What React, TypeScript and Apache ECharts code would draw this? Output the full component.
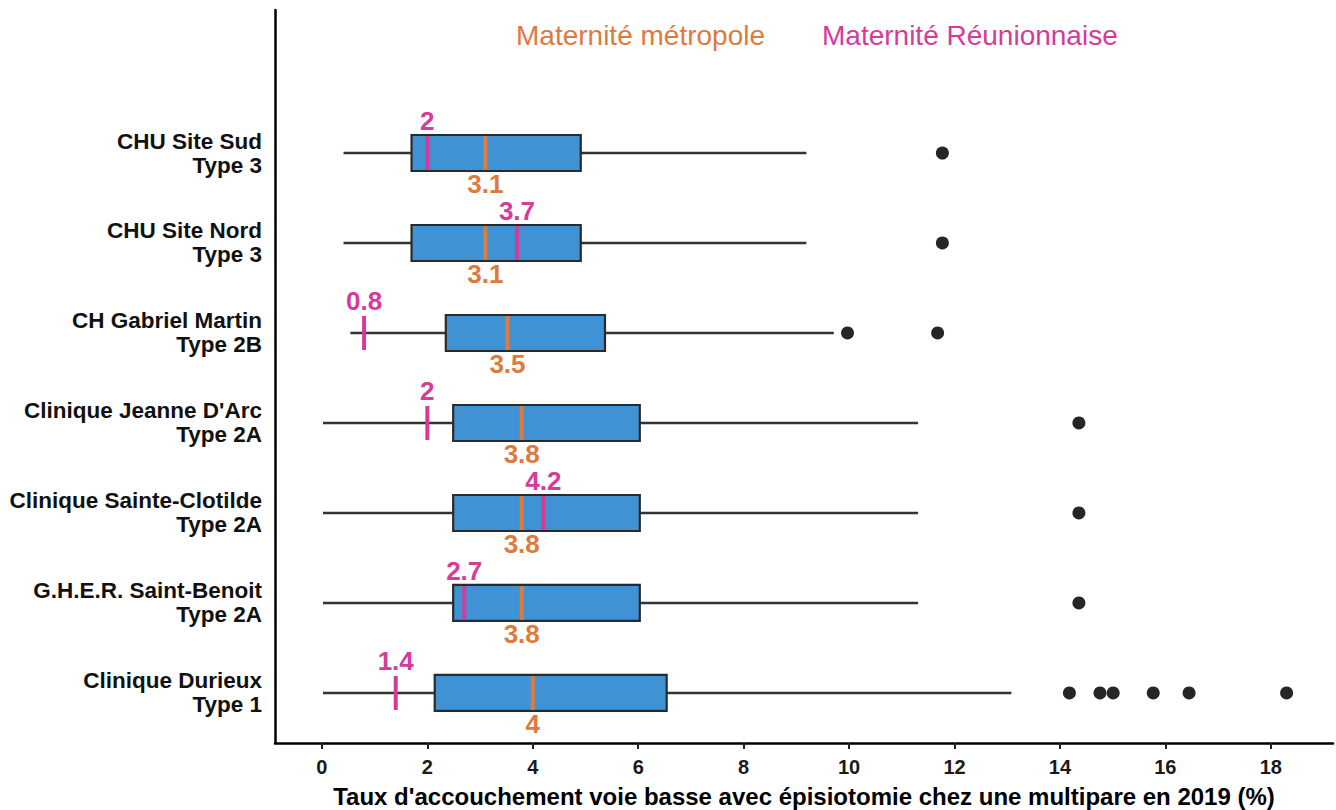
import React, { useEffect, useRef } from "react";
import * as echarts from "echarts";

// ---- Data ----
const categories = [
  "CHU Site Sud\nType 3",
  "CHU Site Nord\nType 3",
  "CH Gabriel Martin\nType 2B",
  "Clinique Jeanne D'Arc\nType 2A",
  "Clinique Sainte-Clotilde\nType 2A",
  "G.H.E.R. Saint-Benoit\nType 2A",
  "Clinique Durieux\nType 1",
];
const whiskerLow = [0.41, 0.41, 0.54, 0.02, 0.02, 0.02, 0.02];
const q1 = [1.7, 1.7, 2.35, 2.49, 2.49, 2.49, 2.14];
const medianMetropole = [3.1, 3.1, 3.52, 3.79, 3.79, 3.79, 4.0];
const q3 = [4.91, 4.91, 5.37, 6.03, 6.03, 6.03, 6.54];
const whiskerHigh = [9.19, 9.19, 9.71, 11.31, 11.31, 11.31, 13.08];
const reunionValue = [2, 3.7, 0.8, 2, 4.2, 2.7, 1.4];
const outliers: [number, number][] = [
  [11.77, 0],
  [11.77, 1],
  [9.97, 2],
  [11.68, 2],
  [14.36, 3],
  [14.36, 4],
  [14.36, 5],
  [14.18, 6],
  [14.76, 6],
  [15.01, 6],
  [15.77, 6],
  [16.45, 6],
  [18.3, 6],
];
const xTicks = [0, 2, 4, 6, 8, 10, 12, 14, 16, 18];
const xAxisTitle =
  "Taux d'accouchement voie basse avec épisiotomie chez une multipare en 2019 (%)";
const legendMetropole = "Maternité métropole";
const legendReunion = "Maternité Réunionnaise";

const ORANGE = "#DE7A3B";
const MAGENTA = "#D63A9B";
const BLUE = "#3F93D5";
const DARK = "#2a2a2a";
const FONT = "Liberation Sans, Arial, Helvetica, sans-serif";

const fmt = (v: number) => String(Number(v.toFixed(1)));

export default function App() {
  const ref = useRef<HTMLDivElement>(null);
  useEffect(() => {
    if (!ref.current) return;
    const chart = echarts.init(ref.current, undefined, { renderer: "svg" });
    const boxData = categories.map((_, i) => [
      i,
      whiskerLow[i],
      q1[i],
      medianMetropole[i],
      q3[i],
      whiskerHigh[i],
      reunionValue[i],
    ]);
    const halfH = 18;
    const option: any = {
      animation: false,
      backgroundColor: "#ffffff",
      grid: {
        left: 275,
        right: 3,
        top: 10,
        bottom: 67,
        containLabel: false,
        outerBoundsMode: "none",
      },
      xAxis: {
        type: "value",
        min: -0.89,
        max: 19.18,
        splitLine: { show: false },
        axisLine: { show: true, onZero: false, lineStyle: { color: "#000", width: 2.5 } },
        axisTick: {
          show: true,
          customValues: xTicks,
          length: 6,
          lineStyle: { color: "#222", width: 2 },
        },
        axisLabel: {
          customValues: xTicks,
          fontFamily: FONT,
          fontSize: 20,
          fontWeight: "bold",
          color: "#1a1a1a",
          margin: 14,
        },
        name: xAxisTitle,
        nameLocation: "middle",
        nameGap: 41,
        nameTextStyle: {
          fontFamily: FONT,
          fontSize: 24,
          fontWeight: "bold",
          color: "#000",
        },
      },
      yAxis: {
        type: "value",
        inverse: true,
        min: -1.589,
        max: 6.556,
        splitLine: { show: false },
        axisLine: { show: true, onZero: false, lineStyle: { color: "#000", width: 2.5 } },
        axisTick: { show: false },
        axisLabel: {
          customValues: categories.map((_, i) => i),
          formatter: (v: number) => categories[Math.round(v)] ?? "",
          fontFamily: FONT,
          fontSize: 22.5,
          fontWeight: "bold",
          color: "#111",
          align: "right",
          margin: 13,
          lineHeight: 24,
        },
      },
      graphic: [
        {
          type: "text",
          left: 516,
          top: 21,
          style: {
            text: legendMetropole,
            font: `28px ${FONT}`,
            fill: ORANGE,
          },
        },
        {
          type: "text",
          left: 822,
          top: 21,
          style: {
            text: legendReunion,
            font: `28px ${FONT}`,
            fill: MAGENTA,
          },
        },
      ],
      series: [
        {
          type: "custom",
          data: boxData,
          encode: { x: [1, 2, 3, 4, 5, 6], y: 0 },
          renderItem: (params: any, api: any) => {
            const row = api.value(0);
            const c = (v: number) => api.coord([v, row]);
            const pLow = c(api.value(1));
            const pQ1 = c(api.value(2));
            const pMed = c(api.value(3));
            const pQ3 = c(api.value(4));
            const pHigh = c(api.value(5));
            const pReu = c(api.value(6));
            const y = pMed[1];
            const top = y - halfH;
            const bot = y + halfH;
            return {
              type: "group",
              children: [
                {
                  type: "line",
                  shape: { x1: pLow[0], y1: y, x2: pHigh[0], y2: y },
                  style: { stroke: "#333", lineWidth: 2.4 },
                },
                {
                  type: "rect",
                  shape: { x: pQ1[0], y: top, width: pQ3[0] - pQ1[0], height: bot - top },
                  style: { fill: BLUE, stroke: DARK, lineWidth: 2.2 },
                },
                {
                  type: "line",
                  shape: { x1: pMed[0], y1: top + 1, x2: pMed[0], y2: bot - 1 },
                  style: { stroke: ORANGE, lineWidth: 4 },
                },
                {
                  type: "line",
                  shape: { x1: pReu[0], y1: top + 1, x2: pReu[0], y2: bot - 1 },
                  style: { stroke: MAGENTA, lineWidth: 4 },
                },
                {
                  type: "text",
                  style: {
                    text: fmt(api.value(6)),
                    x: pReu[0],
                    y: top - 1,
                    align: "center",
                    verticalAlign: "bottom",
                    font: `bold 26px ${FONT}`,
                    fill: MAGENTA,
                  },
                },
                {
                  type: "text",
                  style: {
                    text: fmt(api.value(3)),
                    x: pMed[0],
                    y: bot,
                    align: "center",
                    verticalAlign: "top",
                    font: `bold 26px ${FONT}`,
                    fill: ORANGE,
                  },
                },
              ],
            };
          },
          z: 2,
        },
        {
          type: "scatter",
          data: outliers,
          symbol: "circle",
          symbolSize: 13,
          itemStyle: { color: "#262626", opacity: 1 },
          z: 3,
        },
      ],
    };
    chart.setOption(option);
    return () => chart.dispose();
  }, []);
  return (
    <div
      ref={ref}
      style={{ position: "fixed", left: 0, top: 0, width: 1336, height: 810, background: "#fff" }}
    />
  );
}
